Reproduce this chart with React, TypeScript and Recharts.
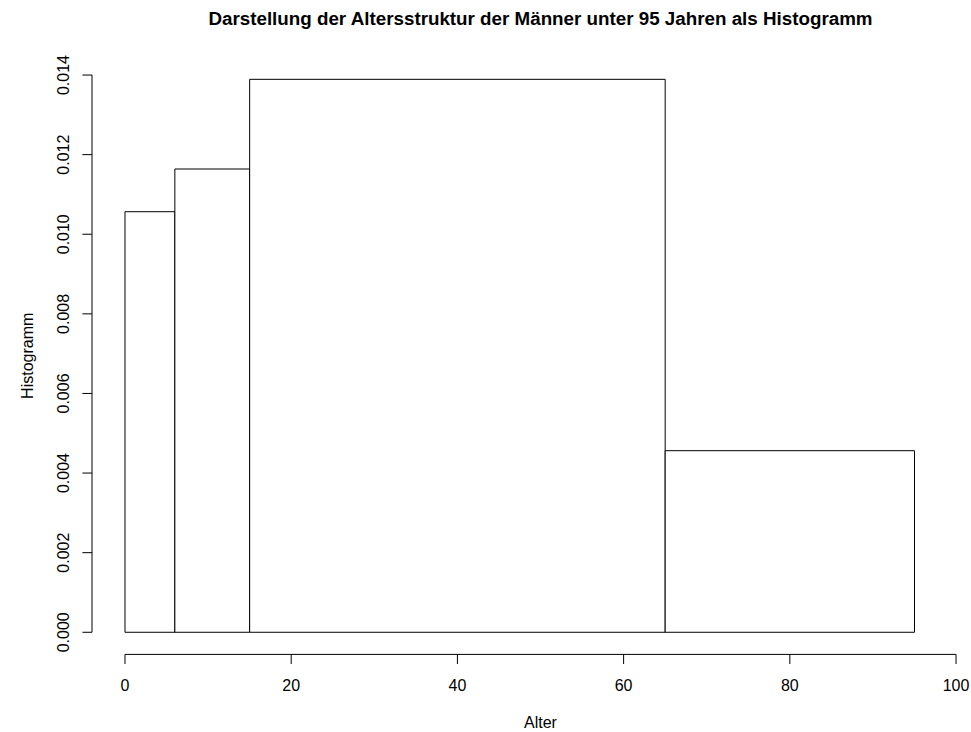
import {
  ComposedChart,
  XAxis,
  YAxis,
  ReferenceArea,
  ReferenceLine,
} from "recharts";

// histogram bins (Alter) and their densities
const binStarts = [0, 6, 15, 65];
const binEnds = [6, 15, 65, 95];
const densities = [0.010566, 0.011639, 0.013892, 0.004562];

const xTicks = [0, 20, 40, 60, 80, 100];
const yTicks = [0, 0.002, 0.004, 0.006, 0.008, 0.01, 0.012, 0.014];

const title = "Darstellung der Altersstruktur der Männer unter 95 Jahren als Histogramm";
const xLabel = "Alter";
const yLabel = "Histogramm";

const FONT = '"Liberation Sans", Arial, Helvetica, sans-serif';
const W = 971;
const H = 732;

// R-like plot region (usr extended by 4%)
const X_DOMAIN: [number, number] = [-3.97, 101.8];
const Y_DOMAIN: [number, number] = [-0.000556, 0.014448];

const bins = binStarts.map((s, i) => ({
  start: s,
  end: binEnds[i],
  density: densities[i],
}));

const XTick = (props: any) => {
  const { x, y, payload } = props;
  return (
    <text
      x={x}
      y={y + 26.7}
      textAnchor="middle"
      fontSize={16}
      fontFamily={FONT}
      fill="#000"
    >
      {payload.value}
    </text>
  );
};

const YTick = (props: any) => {
  const { x, y, payload } = props;
  const tx = x - 13.7;
  return (
    <text
      x={tx}
      y={y}
      textAnchor="middle"
      fontSize={16}
      fontFamily={FONT}
      fill="#000"
      transform={`rotate(-90, ${tx}, ${y})`}
    >
      {Number(payload.value).toFixed(3)}
    </text>
  );
};

export default function App() {
  return (
    <div
      style={{
        position: "absolute",
        left: 0,
        top: 0,
        width: W,
        height: H,
        background: "#fff",
        overflow: "hidden",
      }}
    >
      <ComposedChart
        width={W}
        height={H}
        data={bins}
        margin={{ top: 57.2, right: 0, bottom: 0, left: 0 }}
      >
        <XAxis
          type="number"
          dataKey="start"
          domain={X_DOMAIN}
          ticks={xTicks}
          allowDataOverflow
          axisLine={false}
          tickLine={{ stroke: "#000", strokeWidth: 1 }}
          tickSize={9.6}
          tickMargin={0}
          height={77.6}
          tick={<XTick />}
          interval={0}
        />
        <YAxis
          type="number"
          domain={Y_DOMAIN}
          ticks={yTicks}
          allowDataOverflow
          axisLine={false}
          tickLine={{ stroke: "#000", strokeWidth: 1 }}
          tickSize={9.6}
          tickMargin={0}
          width={92}
          tick={<YTick />}
          interval={0}
        />
        {bins.map((b) => (
          <ReferenceArea
            key={b.start}
            x1={b.start}
            x2={b.end}
            y1={0}
            y2={b.density}
            fill="#fff"
            fillOpacity={1}
            stroke="#000"
            strokeWidth={1}
            ifOverflow="visible"
          />
        ))}
        <ReferenceLine
          segment={[
            { x: xTicks[0], y: Y_DOMAIN[0] },
            { x: xTicks[xTicks.length - 1], y: Y_DOMAIN[0] },
          ]}
          stroke="#000"
          strokeWidth={1}
          ifOverflow="visible"
        />
        <ReferenceLine
          segment={[
            { x: X_DOMAIN[0], y: yTicks[0] },
            { x: X_DOMAIN[0], y: yTicks[yTicks.length - 1] },
          ]}
          stroke="#000"
          strokeWidth={1}
          ifOverflow="visible"
        />
      </ComposedChart>
      <svg
        width={W}
        height={H}
        style={{ position: "absolute", left: 0, top: 0, pointerEvents: "none" }}
      >
        <text
          x={540.5}
          y={25}
          textAnchor="middle"
          fontSize={18.8}
          fontWeight="bold"
          fontFamily={FONT}
          fill="#000"
        >
          {title}
        </text>
        <text
          x={540.5}
          y={728.3}
          textAnchor="middle"
          fontSize={16}
          fontFamily={FONT}
          fill="#000"
        >
          {xLabel}
        </text>
        <text
          x={33.5}
          y={355.8}
          textAnchor="middle"
          fontSize={16}
          fontFamily={FONT}
          fill="#000"
          transform="rotate(-90, 33.5, 355.8)"
        >
          {yLabel}
        </text>
      </svg>
    </div>
  );
}
